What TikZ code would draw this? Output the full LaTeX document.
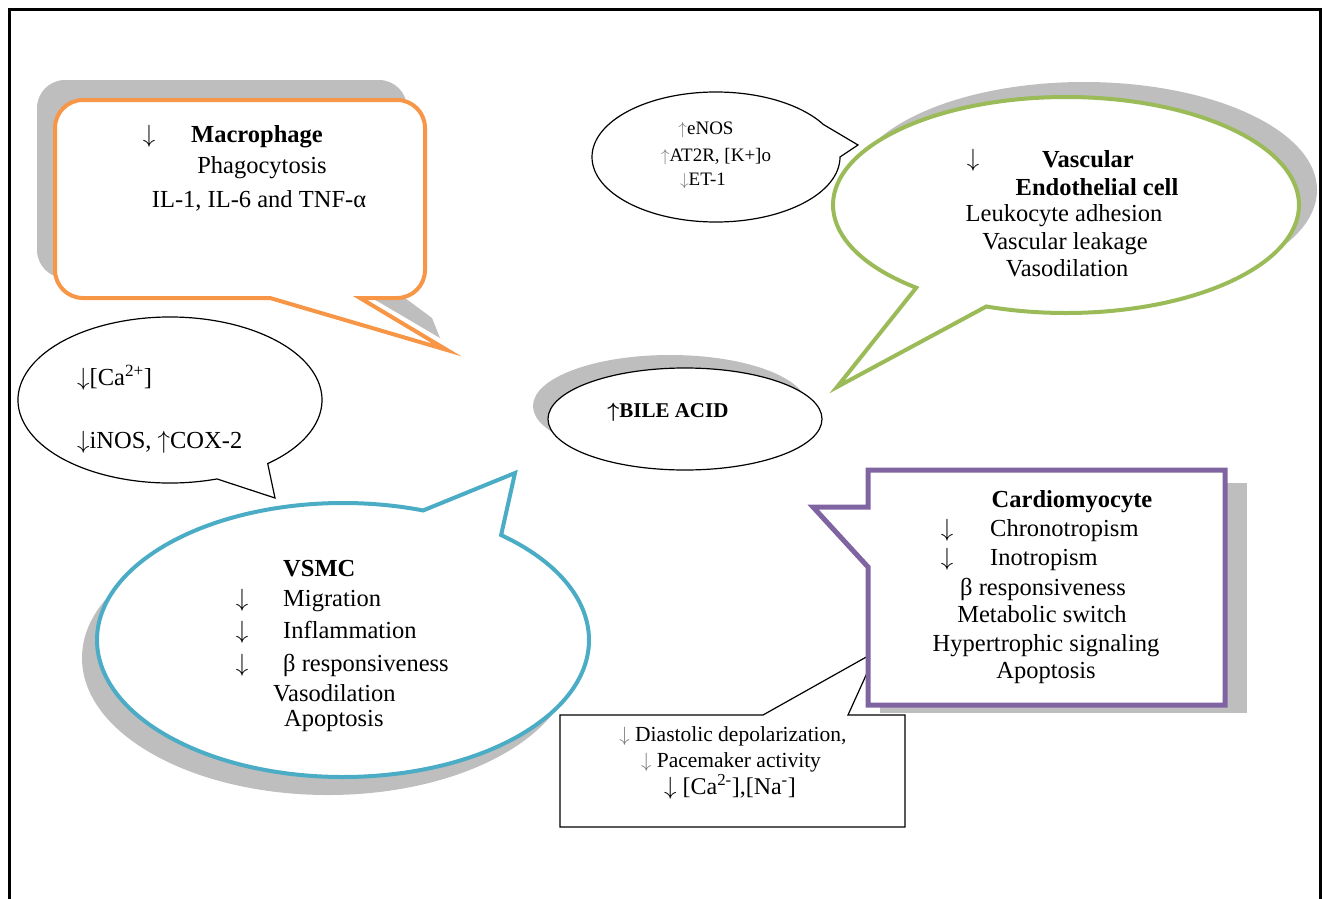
\documentclass[tikz,border=0pt]{standalone}
\usepackage{fontspec}
\setmainfont{Liberation Serif}

\definecolor{macorange}{RGB}{247,150,70}
\definecolor{endogreen}{RGB}{155,187,89}
\definecolor{vsmcblue}{RGB}{75,172,198}
\definecolor{cardpurple}{RGB}{128,100,162}
\definecolor{shadowgray}{RGB}{190,190,190}
\definecolor{arrowgray}{RGB}{120,120,120}

\newcommand{\dn}{$\downarrow$}
\newcommand{\upar}{$\uparrow$}

\tikzset{
  txt/.style={inner sep=0pt, anchor=mid, yshift=-6pt, font=\fontsize{24.5}{28}\selectfont},
  boldtxt/.style={txt, font=\fontsize{24.5}{28}\selectfont\bfseries},
  smalltxt/.style={inner sep=0pt, anchor=mid, yshift=-5pt, font=\fontsize{19}{22}\selectfont},
  notetxt/.style={inner sep=0pt, anchor=mid, yshift=-6pt, font=\fontsize{21.5}{25}\selectfont},
  outline/.style={line width=1.2pt},
}

\begin{document}
\begin{tikzpicture}[x=1pt, y=-1pt, line join=miter]
\useasboundingbox (0,0) rectangle (1322,899);
\draw[line width=3pt] (9.5,899) -- (9.5,9.5) -- (1320,9.5) -- (1320,899);

% Macrophage
\fill[shadowgray, rounded corners=28pt] (37,80) rectangle (407,278);
\fill[shadowgray] (372,298) -- (440,338) -- (432,318) -- (405,298) -- cycle;
\filldraw[fill=white, draw=macorange, line width=4pt] (447,350) -- (360,298) -- (397,298)
  arc[start angle=90, end angle=0, radius=28] -- (425,128)
  arc[start angle=0, end angle=-90, radius=28] -- (83,100)
  arc[start angle=270, end angle=180, radius=28] -- (55,270)
  arc[start angle=180, end angle=90, radius=28] -- (270,298) -- cycle;

% Ca ellipse and eNOS ellipse
\filldraw[fill=white, outline] (170,400) ++(72:152 and 83)
  arc[start angle=72, end angle=410, x radius=152, y radius=83] -- (275,498) -- cycle;
\filldraw[fill=white, outline] (716,157) ++(0:124 and 65)
  arc[start angle=0, end angle=330, x radius=124, y radius=65] -- (858,145) -- cycle;

% Vascular endothelial cell
\fill[shadowgray] (1084,190) ellipse[x radius=233, y radius=108];
\filldraw[fill=white, draw=endogreen, line width=4pt] (1066,205) ++(130:233 and 108)
  arc[start angle=130, end angle=470, x radius=233, y radius=108] -- (837,387) -- cycle;

% Bile acid
\fill[shadowgray] (670,406) ellipse[x radius=137, y radius=51];
\filldraw[fill=white, outline] (685,419) ellipse[x radius=137, y radius=51];

% VSMC
\fill[shadowgray] (328,658) ellipse[x radius=246, y radius=137];
\filldraw[fill=white, draw=vsmcblue, line width=4pt] (343,640) ++(-50:246 and 137)
  arc[start angle=-50, end angle=289, x radius=246, y radius=137] -- (515,473) -- cycle;

% Pacemaker note and cardiomyocyte
\filldraw[fill=white, outline] (560,715) -- (763,715) -- (877,651) -- (848,715) -- (905,715)
  -- (905,827) -- (560,827) -- cycle;
\fill[shadowgray] (880,483) rectangle (1247,713);
\filldraw[fill=white, draw=cardpurple, line width=5pt] (868,507) -- (868,470) -- (1225,470)
  -- (1225,705) -- (868,705) -- (868,567) -- (813,507) -- cycle;

% Texts
\node[txt] (macArrow) at (149,134) {\dn};
\node[boldtxt] (macTitle) at (257,134) {Macrophage};
\node[txt] (macPhago) at (262,165) {Phagocytosis};
\node[txt] (macCyto) at (259,199) {IL-1, IL-6 and TNF-α};

\node[smalltxt] (enosUp) at (706,127) {\textcolor{arrowgray}{\upar}eNOS};
\node[smalltxt] (enosAt) at (716,154) {\textcolor{arrowgray}{\upar}AT2R, [K+]o};
\node[smalltxt] (enosEt) at (703,178) {\textcolor{arrowgray}{\dn}ET-1};

\node[txt] (endoArrow) at (973,158) {\dn};
\node[boldtxt] (endoTitle) at (1088,159) {Vascular};
\node[boldtxt] (endoCell) at (1097,187) {Endothelial cell};
\node[txt] (endoLeuko) at (1064,213) {Leukocyte adhesion};
\node[txt] (endoLeak) at (1065,241) {Vascular leakage};
\node[txt] (endoDil) at (1067,268) {Vasodilation};

\node[txt, anchor=mid west] (caIon) at (77,377) {\dn[Ca\textsuperscript{2+}]};
\node[txt, anchor=mid west] (caNos) at (77,440) {\dn iNOS, \upar COX-2};

\node[inner sep=0pt, anchor=mid, yshift=-5pt, font=\fontsize{21}{24}\selectfont\bfseries] (bile) at (668,410) {{\boldmath$\uparrow$}BILE ACID};

\node[boldtxt, anchor=mid west] (vsmcTitle) at (283,568) {VSMC};
\foreach \y/\name/\txt in {598/vsmcMig/Migration, 630/vsmcInf/Inflammation, 663/vsmcBeta/β responsiveness} {
  \node[txt] (\name Arrow) at (242,\y) {\dn};
  \node[txt, anchor=mid west] (\name) at (283,\y) {\txt};
}
\node[txt, anchor=mid west] (vsmcDil) at (273,693) {Vasodilation};
\node[txt, anchor=mid west] (vsmcApo) at (284,718) {Apoptosis};

\node[boldtxt] (cardTitle) at (1072,499) {Cardiomyocyte};
\node[txt] (cardChronoArrow) at (947,528) {\dn};
\node[txt, anchor=mid west] (cardChrono) at (990,528) {Chronotropism};
\node[txt] (cardInoArrow) at (947,557) {\dn};
\node[txt, anchor=mid west] (cardIno) at (990,557) {Inotropism};
\node[txt] (cardBeta) at (1043,587) {β responsiveness};
\node[txt] (cardMeta) at (1042,614) {Metabolic switch};
\node[txt] (cardHyper) at (1046,643) {Hypertrophic signaling};
\node[txt] (cardApo) at (1046,670) {Apoptosis};

\node[notetxt] (noteDepol) at (733,733) {\textcolor{arrowgray}{\dn} Diastolic depolarization,};
\node[notetxt] (notePace) at (731,759) {\textcolor{arrowgray}{\dn} Pacemaker activity};
\node[inner sep=0pt, anchor=mid, yshift=-6pt, font=\fontsize{24}{28}\selectfont] (noteIons) at (730,786) {\dn\ [Ca\textsuperscript{2-}],[Na\textsuperscript{-}]};
\end{tikzpicture}
\end{document}
